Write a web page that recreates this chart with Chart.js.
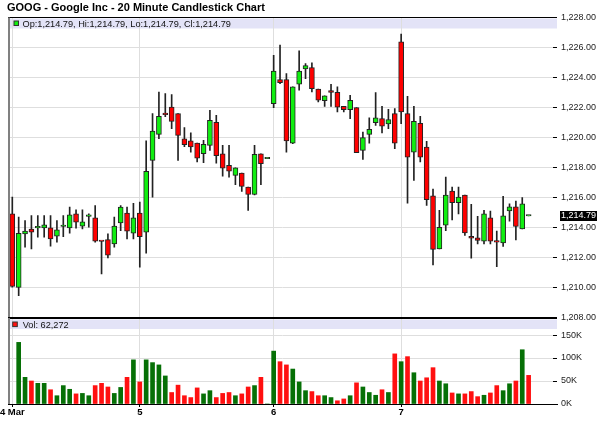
<!DOCTYPE html>
<html lang="en">
<head>
<meta charset="UTF-8">
<title>GOOG - 20 Minute Candlestick Chart</title>
<script src="https://cdn.jsdelivr.net/npm/chart.js"></script>
<style>
  body { margin: 0; background: #fff; }
  #wrap { position: relative; width: 600px; height: 439px; }
  #priceChart { position: absolute; left: 0; top: 0; }
  #volChart { position: absolute; left: 0; top: 310px; }
</style>
</head>
<body>
<div id="wrap">
  <canvas id="priceChart" width="600" height="326"></canvas>
  <canvas id="volChart" width="600" height="129"></canvas>
</div>
<script>
const titleText = 'GOOG - Google Inc - 20 Minute Candlestick Chart';

// first bar index of each trading day, and its axis label
const dayStarts = [0, 20, 41, 61];
const dayLabels = ['4 Mar', '5', '6', '7'];

// right-hand axis ticks
const priceTicks = [1208, 1210, 1212, 1214, 1216, 1218, 1220, 1222, 1224, 1226, 1228];
const volumeTicks = [0, 50000, 100000, 150000];

const opens = [
  1214.93, 1210.04, 1213.60, 1213.91, 1214.00, 1214.00, 1214.00, 1213.44, 1214.09, 1214.00,
  1214.93, 1214.11, 1214.76, 1214.67, 1213.11, 1213.22, 1212.93, 1214.33, 1214.98, 1213.64,
  1214.98, 1213.71, 1218.49, 1220.22, 1221.64, 1222.04, 1221.60, 1219.93, 1219.80, 1219.64,
  1218.93, 1219.49, 1221.02, 1218.93, 1218.16, 1217.49, 1217.64, 1216.71, 1216.22, 1218.93, 1218.60,
  1222.27, 1223.87, 1223.87, 1219.64, 1223.56, 1224.58, 1224.67, 1223.24, 1222.47, 1223.13,
  1223.02, 1222.09, 1221.87, 1222.00, 1219.16, 1220.22, 1221.00, 1221.27, 1220.91, 1221.60,
  1226.38, 1221.60, 1219.04, 1220.96, 1219.38, 1216.13, 1212.60, 1214.18, 1216.44, 1215.67,
  1216.18, 1213.44, 1213.33, 1213.11, 1214.67, 1213.16, 1213.00, 1215.13, 1215.40, 1213.93, 1214.79
];
const highs = [
  1216.04, 1214.71, 1214.49, 1214.82, 1214.82, 1214.82, 1214.82, 1214.49, 1214.82, 1215.38,
  1215.20, 1215.20, 1214.93, 1215.49, 1213.11, 1213.60, 1214.71, 1215.49, 1215.38, 1215.64,
  1215.71, 1219.80, 1221.60, 1223.04, 1222.93, 1222.87, 1221.60, 1220.67, 1220.33, 1219.64,
  1219.82, 1221.82, 1221.49, 1219.49, 1219.49, 1218.00, 1217.64, 1216.71, 1219.49, 1218.93, 1218.60,
  1225.49, 1226.16, 1224.27, 1223.38, 1225.78, 1224.93, 1224.98, 1223.24, 1222.78, 1223.56,
  1223.38, 1222.09, 1222.82, 1222.00, 1220.38, 1221.33, 1223.00, 1222.09, 1221.89, 1221.93,
  1226.89, 1222.76, 1222.09, 1221.42, 1219.76, 1216.58, 1215.16, 1217.38, 1216.71, 1216.71,
  1216.18, 1215.56, 1214.76, 1215.16, 1215.11, 1213.78, 1216.09, 1215.60, 1215.78, 1216.02, 1214.79
];
const lows = [
  1210.05, 1209.49, 1212.71, 1212.60, 1213.38, 1213.38, 1212.78, 1213.04, 1213.42, 1213.64,
  1213.98, 1213.93, 1214.04, 1213.04, 1210.93, 1212.00, 1212.71, 1213.82, 1213.27, 1213.27,
  1211.38, 1212.31, 1216.04, 1219.93, 1221.40, 1220.60, 1218.49, 1219.40, 1219.04, 1218.38,
  1218.33, 1219.16, 1218.30, 1217.44, 1217.38, 1216.87, 1216.42, 1215.16, 1216.20, 1216.87, 1218.60,
  1222.00, 1223.60, 1219.04, 1219.60, 1223.16, 1223.93, 1223.04, 1222.38, 1222.09, 1222.09,
  1221.71, 1221.71, 1221.27, 1219.00, 1218.56, 1219.64, 1220.82, 1220.31, 1220.60, 1219.27,
  1220.93, 1215.64, 1217.16, 1218.38, 1215.49, 1211.53, 1212.60, 1213.82, 1214.53, 1214.93,
  1213.49, 1211.98, 1212.93, 1212.93, 1212.93, 1211.42, 1212.76, 1214.44, 1213.20, 1213.93, 1214.79
];
const closes = [
  1210.11, 1213.64, 1213.78, 1213.71, 1214.02, 1214.20, 1213.27, 1213.87, 1214.13, 1214.87,
  1214.38, 1214.40, 1214.78, 1213.11, 1213.09, 1212.18, 1214.11, 1215.38, 1213.78, 1214.67,
  1213.42, 1217.76, 1220.44, 1221.42, 1221.53, 1221.09, 1220.16, 1219.53, 1219.38, 1218.64,
  1219.56, 1221.16, 1218.80, 1217.98, 1217.78, 1218.00, 1216.76, 1216.22, 1218.89, 1218.27, 1218.60,
  1224.44, 1223.67, 1219.78, 1223.38, 1224.44, 1224.80, 1223.27, 1222.49, 1222.78, 1223.02,
  1222.04, 1221.87, 1222.49, 1219.00, 1220.00, 1220.56, 1221.33, 1220.76, 1221.20, 1219.64,
  1221.71, 1218.71, 1221.09, 1218.71, 1215.87, 1212.56, 1214.04, 1216.18, 1215.67, 1216.04,
  1213.67, 1213.31, 1213.16, 1214.93, 1213.11, 1213.04, 1214.80, 1215.40, 1214.09, 1215.60, 1214.79
];
const volumes = [
  null, 134000, 58000, 50000, 45000, 45000, 31000, 18000, 40000, 32000,
  22000, 23000, 18000, 40000, 45000, 37000, 23000, 36000, 58000, 96000,
  48000, 96000, 90000, 85000, 61000, 25000, 41000, 18000, 14000, 35000,
  22000, 29000, 14000, 23000, 25000, 18000, 22000, 37000, 40000, 58000, 0,
  115000, 92000, 85000, 76000, 48000, 29000, 27000, 18000, 18000, 14000,
  7000, 11000, 18000, 46000, 37000, 25000, 19000, 31000, 25000, 109000,
  92000, 103000, 68000, 50000, 57000, 79000, 50000, 44000, 24000, 22000,
  22000, 27000, 16000, 19000, 24000, 40000, 29000, 44000, 50000, 118000, 62272
];

const FONT = '"Liberation Sans", Arial, sans-serif';
Chart.defaults.font.family = FONT;

const UP = '#11ee11', DOWN = '#ff0000';
const VOL_UP = '#067006', VOL_DOWN = '#ff1010';
const GRID = '#dedede';
const BAND = '#e3e3f7';
const X_MIN = -0.675, X_MAX = 85.45;

const fmt = v => v.toLocaleString('en-US', { minimumFractionDigits: 2, maximumFractionDigits: 2 });

const bodyColors = closes.map((c, i) => c >= opens[i] ? UP : DOWN);
const volColors = closes.map((c, i) => (i === 0 ? c >= opens[0] : c >= closes[i - 1]) ? VOL_UP : VOL_DOWN);
const last = closes.length - 1;

function xAxis(showLabels) {
  return {
    type: 'linear',
    min: X_MIN,
    max: X_MAX,
    offset: false,
    grid: { offset: false, color: GRID, drawTicks: showLabels, tickLength: 3, tickColor: '#000' },
    border: { display: showLabels, color: '#000' },
    ticks: {
      display: showLabels, padding: 0, color: '#000', autoSkip: false, maxRotation: 0,
      font: { size: 9.5, weight: 'bold' },
      callback: (v, i) => dayLabels[i]
    },
    afterBuildTicks: s => { s.ticks = dayStarts.map(v => ({ value: v })); },
    afterFit: s => { s.height = showLabels ? 35 : 0; s.paddingLeft = 0; s.paddingRight = 0; }
  };
}

function yAxis(min, max, tickValues, label) {
  return {
    type: 'linear',
    position: 'right',
    min: min,
    max: max,
    grid: { color: GRID, tickLength: -4, tickColor: '#000' },
    border: { display: false },
    ticks: { padding: 8, color: '#222', font: { size: 9 }, callback: label },
    afterBuildTicks: s => { s.ticks = tickValues.map(v => ({ value: v })); },
    afterFit: s => { s.width = 43; s.paddingTop = 0; s.paddingBottom = 0; }
  };
}

const priceDecor = {
  id: 'priceDecor',
  beforeDraw(chart) {
    const { ctx, chartArea: a } = chart;
    ctx.save();
    ctx.fillStyle = BAND;
    ctx.fillRect(a.left + 1, a.top + 1, a.right - a.left - 1, 10);
    ctx.restore();
  },
  afterDraw(chart) {
    const { ctx, chartArea: a, scales } = chart;
    ctx.save();
    ctx.fillStyle = '#000';
    ctx.font = 'bold 11px ' + FONT;
    ctx.fillText(titleText, 7, 10.8);

    ctx.fillRect(a.left, a.top - 0.5, a.right - a.left, 1);
    ctx.fillStyle = '#808080';
    ctx.fillRect(a.left, a.top, 2, a.bottom - a.top);

    // OHLC legend
    ctx.fillStyle = bodyColors[last];
    ctx.fillRect(14, 21, 4.5, 4.5);
    ctx.strokeStyle = '#333';
    ctx.lineWidth = 1;
    ctx.strokeRect(14, 21, 4.5, 4.5);
    ctx.fillStyle = '#111';
    ctx.font = '9.2px ' + FONT;
    ctx.fillText('Op:' + fmt(opens[last]) + ', Hi:' + fmt(highs[last]) + ', Lo:' + fmt(lows[last]) + ', Cl:' + fmt(closes[last]), 22.5, 26.5);

    // last price marker on the axis
    const y = Math.round(scales.y.getPixelForValue(closes[last]));
    ctx.fillStyle = '#000';
    ctx.fillRect(560, y - 5, 37, 10);
    ctx.fillStyle = '#fff';
    ctx.font = '9px ' + FONT;
    ctx.textBaseline = 'middle';
    ctx.fillText(fmt(closes[last]), 561, y);
    ctx.restore();
  }
};

const volDecor = {
  id: 'volDecor',
  beforeDraw(chart) {
    const { ctx, chartArea: a } = chart;
    ctx.save();
    ctx.fillStyle = BAND;
    ctx.fillRect(a.left + 1, a.top + 1.5, a.right - a.left - 1, 9.5);
    ctx.restore();
  },
  afterDraw(chart) {
    const { ctx, chartArea: a } = chart;
    ctx.save();
    ctx.fillStyle = '#000';
    ctx.fillRect(a.left, a.top - 1, a.right - a.left, 2);
    ctx.fillStyle = '#808080';
    ctx.fillRect(a.left, a.top, 2, a.bottom - a.top);

    ctx.fillStyle = volColors[last];
    ctx.fillRect(12.7, 12, 4.6, 4.6);
    ctx.strokeStyle = '#333';
    ctx.lineWidth = 1;
    ctx.strokeRect(12.7, 12, 4.6, 4.6);
    ctx.fillStyle = '#111';
    ctx.font = '9.2px ' + FONT;
    ctx.fillText('Vol: ' + volumes[last].toLocaleString('en-US'), 22.7, 17.5);
    ctx.restore();
  }
};

new Chart(document.getElementById('priceChart'), {
  type: 'bar',
  data: {
    datasets: [{
      label: 'Body',
      data: opens.map((o, i) => ({ x: i, y: [Math.min(o, closes[i]), Math.max(o, closes[i])] })),
      backgroundColor: bodyColors,
      borderColor: '#222',
      borderWidth: 1,
      borderSkipped: false,
      barThickness: 5,
      minBarLength: 1.5,
      grouped: false
    }, {
      label: 'Wick',
      data: lows.map((l, i) => ({ x: i, y: [l, highs[i]] })),
      backgroundColor: '#222',
      borderWidth: 0,
      barThickness: 1,
      grouped: false
    }]
  },
  options: {
    responsive: false,
    animation: false,
    events: [],
    layout: { padding: { left: 8, right: 0, top: 17.5, bottom: 8 } },
    plugins: { legend: { display: false }, tooltip: { enabled: false } },
    scales: {
      x: xAxis(false),
      y: yAxis(1208, 1228, priceTicks, v => fmt(v))
    }
  },
  plugins: [priceDecor]
});

new Chart(document.getElementById('volChart'), {
  type: 'bar',
  data: {
    datasets: [{
      label: 'Volume',
      data: volumes.map((v, i) => ({ x: i, y: v })),
      backgroundColor: volColors,
      borderWidth: 0,
      barThickness: 4,
      grouped: false
    }]
  },
  options: {
    responsive: false,
    animation: false,
    events: [],
    layout: { padding: { left: 8, right: 0, top: 8, bottom: 0 } },
    plugins: { legend: { display: false }, tooltip: { enabled: false } },
    scales: {
      x: xAxis(true),
      y: yAxis(0, 187000, volumeTicks, v => (v / 1000) + 'K')
    }
  },
  plugins: [volDecor]
});
</script>
</body>
</html>
